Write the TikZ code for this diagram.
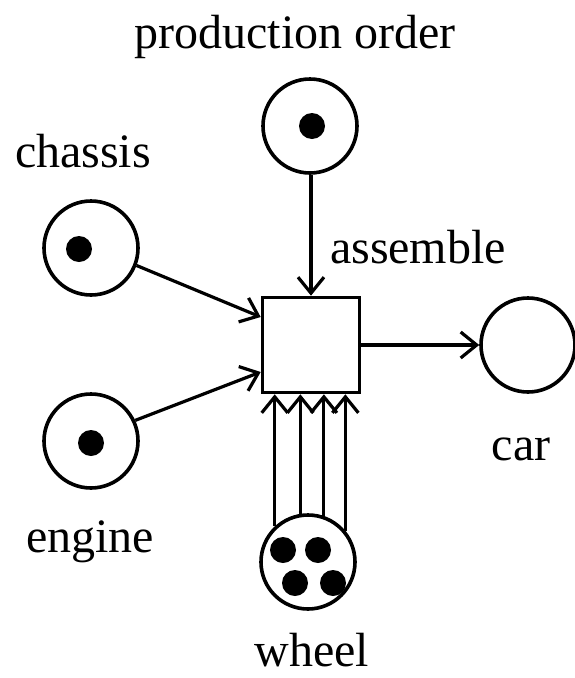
\documentclass[tikz,border=0pt]{standalone}
\usepackage{fontspec}
\setmainfont{Liberation Serif}
\usetikzlibrary{arrows.meta}
\begin{document}
\begin{tikzpicture}[x=1pt,y=-1pt,
  place/.style={circle,draw,line width=3.6pt,minimum size=94pt,inner sep=0pt},
  trans/.style={rectangle,draw,line width=3.6pt,minimum width=97pt,minimum height=95pt,inner sep=0pt},
  token/.style={circle,fill=black,minimum size=26pt,inner sep=0pt},
  arc/.style={line width=3.2pt,-{Straight Barb[length=16pt,width=26pt,line width=3.2pt]}},
  lbl/.style={font=\fontsize{48}{50}\selectfont,anchor=base,inner sep=0pt}]
\useasboundingbox (0,0) rectangle (575,678);
\node[place] (po) at (310,126) {};
\node[token] (tpo) at (312,126) {};
\node[place] (ch) at (91,248) {};
\node[token] (tch) at (79,249) {};
\node[place] (en) at (91,441) {};
\node[token] (ten) at (91,443) {};
\node[trans] (as) at (311,345) {};
\node[place] (car) at (528,345) {};
\node[place] (wh) at (308,562) {};
\node[token] (w1) at (283,550) {};
\node[token] (w2) at (318,550) {};
\node[token] (w3) at (295,583) {};
\node[token] (w4) at (333,583) {};
\node[lbl] (lpo) at (295,48) {production order};
\node[lbl] (lch) at (83,167) {chassis};
\node[lbl] (len) at (90,552) {engine};
\node[lbl] (lwh) at (312,666) {wheel};
\node[lbl] (lcar) at (521,460) {car};
\node[lbl] (las) at (418,263) {assemble};
\draw[arc] (po.south -| as.north) -- (as.north);
\draw[arc] (ch.-21) -- (as.west |- 262,317);
\draw[arc] (en.25) -- (as.west |- 262,372);
\draw[arc] (as.east) -- (car.west);
\draw[arc] (wh.133) -- (wh.133 |- as.south);
\draw[arc] (wh.99.6) -- (wh.99.6 |- as.south);
\draw[arc] (wh.71.8) -- (wh.71.8 |- as.south);
\draw[arc] (wh.40) -- (wh.40 |- as.south);
\end{tikzpicture}
\end{document}
